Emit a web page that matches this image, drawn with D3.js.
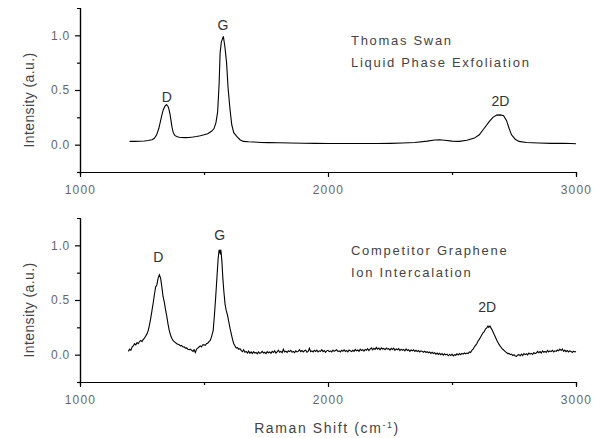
<!DOCTYPE html>
<html>
<head>
<meta charset="utf-8">
<script src="https://cdnjs.cloudflare.com/ajax/libs/d3/7.8.5/d3.min.js"></script>
<style>
  html, body { margin: 0; padding: 0; background: #fff; }
  svg { display: block; font-family: "Liberation Sans", Arial, sans-serif; }
  .tick text { fill: #666; font-size: 12px; }
  .x-axis .tick text { letter-spacing: 1.2px; }
  .y-axis .tick text { letter-spacing: 0.8px; }
  .domain, .tick line { stroke: #000; stroke-width: 1.2px; }
</style>
</head>
<body>
<svg id="chart" width="602" height="438"></svg>
<script>
// Raman spectra: [shift (cm^-1), normalised intensity]
const thomasSwan = [
  [1200,0.030],[1220,0.030],[1240,0.031],[1260,0.034],[1275,0.038],[1290,0.045],[1300,0.058],
  [1309,0.090],[1318,0.150],[1325,0.220],[1331,0.280],[1336,0.320],[1342,0.350],[1349,0.366],
  [1355,0.350],[1359,0.320],[1363,0.280],[1367,0.220],[1371,0.160],[1376,0.110],[1382,0.085],
  [1390,0.075],[1400,0.068],[1410,0.065],[1425,0.064],[1440,0.066],[1455,0.070],[1470,0.075],
  [1485,0.082],[1500,0.090],[1515,0.100],[1530,0.122],[1540,0.145],[1548,0.200],[1555,0.300],
  [1561,0.560],[1565,0.840],[1570,0.940],[1578,0.990],[1584,0.900],[1591,0.750],[1597,0.520],
  [1605,0.320],[1612,0.180],[1620,0.110],[1632,0.076],[1645,0.045],[1659,0.030],[1680,0.026],
  [1700,0.024],[1730,0.020],[1760,0.019],[1800,0.017],[1850,0.015],[1900,0.013],[1950,0.012],
  [2000,0.010],[2050,0.010],[2100,0.010],[2150,0.010],[2200,0.011],[2250,0.012],[2300,0.015],
  [2350,0.020],[2400,0.032],[2430,0.042],[2450,0.045],[2470,0.040],[2500,0.032],[2530,0.030],
  [2560,0.040],[2590,0.060],[2610,0.090],[2630,0.150],[2650,0.210],[2665,0.250],[2680,0.270],
  [2695,0.272],[2708,0.265],[2720,0.220],[2730,0.150],[2740,0.090],[2755,0.050],[2770,0.030],
  [2800,0.020],[2850,0.015],[2900,0.012],[2950,0.012],[2980,0.010],[3000,0.008]
];

const competitor = [
  [1195,0.030],[1200,0.050],[1205,0.040],[1210,0.070],[1215,0.080],[1220,0.100],[1225,0.090],
  [1230,0.110],[1235,0.100],[1240,0.120],[1245,0.130],[1250,0.120],[1255,0.140],[1260,0.150],
  [1265,0.170],[1270,0.190],[1275,0.220],[1280,0.270],[1285,0.330],[1290,0.400],[1295,0.470],
  [1300,0.550],[1305,0.620],[1310,0.640],[1315,0.700],[1320,0.730],[1325,0.700],[1330,0.620],
  [1335,0.530],[1340,0.480],[1345,0.410],[1350,0.350],[1355,0.280],[1360,0.220],[1365,0.180],
  [1370,0.150],[1375,0.130],[1380,0.120],[1385,0.110],[1390,0.100],[1395,0.095],[1400,0.090],
  [1405,0.080],[1410,0.085],[1415,0.070],[1420,0.072],[1425,0.060],[1430,0.062],[1435,0.050],
  [1440,0.045],[1445,0.050],[1450,0.040],[1456,0.030],[1460,0.045],[1465,0.020],[1470,0.050],
  [1475,0.060],[1480,0.070],[1485,0.080],[1490,0.070],[1495,0.090],[1500,0.090],[1505,0.085],
  [1510,0.100],[1515,0.105],[1520,0.120],[1525,0.130],[1530,0.160],[1537,0.220],[1542,0.360],
  [1547,0.520],[1552,0.700],[1557,0.880],[1561,0.960],[1565,0.930],[1568,0.960],[1572,0.860],
  [1576,0.700],[1580,0.580],[1585,0.460],[1590,0.400],[1595,0.360],[1600,0.300],[1605,0.240],
  [1610,0.190],[1615,0.140],[1620,0.100],[1625,0.080],[1630,0.060],[1635,0.065],[1640,0.050],
  [1645,0.055],[1650,0.040],[1655,0.028],[1660,0.045],[1665,0.022],[1670,0.030],[1675,0.015],
  [1680,0.032],[1685,0.012],[1690,0.025],[1695,0.010],[1700,0.028],[1705,0.015],[1710,0.020],
  [1715,0.008],[1720,0.025],[1725,0.012],[1730,0.018],[1735,0.030],[1740,0.015],[1745,0.022],
  [1750,0.010],[1755,0.028],[1760,0.018],[1765,0.025],[1770,0.012],[1775,0.030],[1780,0.020],
  [1785,0.035],[1790,0.015],[1795,0.025],[1800,0.040],[1805,0.022],[1810,0.030],[1815,0.018],
  [1820,0.050],[1825,0.025],[1830,0.032],[1835,0.020],[1840,0.035],[1845,0.028],[1850,0.040],
  [1855,0.022],[1860,0.030],[1865,0.018],[1870,0.035],[1875,0.025],[1880,0.030],[1885,0.045],
  [1890,0.028],[1895,0.038],[1900,0.025],[1905,0.035],[1910,0.040],[1915,0.022],[1920,0.030],
  [1925,0.058],[1930,0.028],[1935,0.035],[1940,0.025],[1945,0.040],[1950,0.030],[1955,0.042],
  [1960,0.025],[1965,0.035],[1970,0.030],[1975,0.045],[1980,0.028],[1985,0.038],[1990,0.022],
  [1995,0.035],[2000,0.040],[2005,0.028],[2010,0.035],[2015,0.025],[2020,0.042],[2025,0.030],
  [2030,0.038],[2035,0.045],[2040,0.028],[2045,0.035],[2050,0.025],[2055,0.040],[2060,0.032],
  [2065,0.045],[2070,0.030],[2075,0.038],[2080,0.025],[2085,0.042],[2090,0.035],[2095,0.028],
  [2100,0.040],[2105,0.030],[2110,0.048],[2115,0.035],[2120,0.042],[2125,0.030],[2130,0.050],
  [2135,0.038],[2140,0.045],[2145,0.032],[2150,0.048],[2155,0.040],[2160,0.055],[2165,0.038],
  [2170,0.050],[2175,0.062],[2180,0.045],[2185,0.058],[2190,0.048],[2195,0.065],[2200,0.050],
  [2205,0.060],[2210,0.045],[2215,0.062],[2220,0.052],[2225,0.058],[2230,0.045],[2235,0.060],
  [2240,0.050],[2245,0.055],[2250,0.042],[2255,0.058],[2260,0.048],[2265,0.060],[2270,0.040],
  [2275,0.052],[2280,0.045],[2285,0.055],[2290,0.038],[2295,0.050],[2300,0.040],[2305,0.048],
  [2310,0.035],[2315,0.052],[2320,0.038],[2325,0.045],[2330,0.030],[2335,0.042],[2340,0.035],
  [2345,0.045],[2350,0.030],[2355,0.040],[2360,0.028],[2365,0.038],[2370,0.025],[2375,0.035],
  [2380,0.030],[2385,0.022],[2390,0.032],[2395,0.020],[2400,0.028],[2405,0.018],[2410,0.025],
  [2415,0.012],[2420,0.022],[2425,0.010],[2430,0.018],[2435,0.005],[2440,0.015],[2445,0.002],
  [2450,0.012],[2455,0.000],[2460,0.010],[2465,-0.005],[2470,0.008],[2475,-0.002],[2480,0.005],
  [2485,-0.010],[2490,0.002],[2495,-0.008],[2500,0.005],[2505,-0.012],[2510,0.000],[2515,-0.005],
  [2520,0.008],[2525,-0.002],[2530,0.010],[2535,0.000],[2540,0.012],[2545,0.005],[2550,0.015],
  [2555,0.008],[2560,0.015],[2565,0.010],[2570,0.025],[2575,0.020],[2580,0.040],[2585,0.050],
  [2590,0.070],[2595,0.085],[2600,0.100],[2605,0.125],[2610,0.140],[2615,0.160],[2620,0.180],
  [2625,0.200],[2630,0.210],[2635,0.235],[2640,0.245],[2645,0.262],[2648,0.250],[2653,0.262],
  [2657,0.245],[2662,0.225],[2667,0.200],[2672,0.175],[2677,0.150],[2682,0.125],[2687,0.105],
  [2692,0.085],[2697,0.070],[2702,0.055],[2707,0.045],[2712,0.035],[2716,0.025],[2720,0.020],
  [2725,0.010],[2730,0.012],[2735,0.000],[2740,0.005],[2745,-0.008],[2750,0.000],[2755,-0.012],
  [2760,-0.015],[2765,-0.002],[2770,0.000],[2775,-0.010],[2780,0.005],[2785,-0.008],[2790,0.010],
  [2795,0.000],[2800,0.008],[2805,-0.002],[2810,0.015],[2815,0.005],[2820,0.012],[2825,0.002],
  [2830,0.020],[2835,0.010],[2840,0.015],[2845,0.030],[2850,0.018],[2855,0.028],[2860,0.015],
  [2865,0.035],[2870,0.022],[2875,0.030],[2880,0.020],[2885,0.038],[2890,0.025],[2895,0.035],
  [2900,0.028],[2905,0.040],[2910,0.025],[2915,0.035],[2920,0.030],[2925,0.042],[2930,0.035],
  [2935,0.050],[2940,0.038],[2945,0.052],[2950,0.030],[2955,0.042],[2960,0.028],[2965,0.038],
  [2970,0.025],[2975,0.035],[2980,0.030],[2985,0.020],[2990,0.032],[2995,0.025],[3000,0.030]
];

const xTicks = [1000, 2000, 3000];
const xMinorTicks = [1500, 2500];
const yTicks = [0.0, 0.5, 1.0];
const yMinorTicks = [-0.25, 0.25, 0.75];

// peak annotations: [label, shift, intensity level of the label baseline]
const swanPeaks = [["D", 1350, 0.39], ["G", 1576, 1.05], ["2D", 2695, 0.35]];
const competitorPeaks = [["D", 1316, 0.85], ["G", 1563, 1.05], ["2D", 2642, 0.39]];

const panels = [
  { data: thomasSwan, top: 8, bottom: 172,
    title: ["Thomas Swan", "Liquid Phase Exfoliation"], peaks: swanPeaks },
  { data: competitor, top: 218, bottom: 382,
    title: ["Competitor Graphene", "Ion Intercalation"], peaks: competitorPeaks }
];

const svg = d3.select("#chart");
const x = d3.scaleLinear().domain([1000, 3000]).range([80, 576]);

panels.forEach(p => {
  const y = d3.scaleLinear().domain([-0.25, 1.25]).range([p.bottom, p.top]);
  const g = svg.append("g");

  // minor ticks
  g.append("g").attr("transform", `translate(0,${p.bottom})`)
    .call(d3.axisBottom(x).tickValues(xMinorTicks).tickSize(3).tickFormat(""));
  g.append("g").attr("transform", `translate(80,0)`)
    .call(d3.axisLeft(y).tickValues(yMinorTicks).tickSize(3).tickFormat(""));

  // major axes
  g.append("g").attr("class", "x-axis").attr("transform", `translate(0,${p.bottom})`)
    .call(d3.axisBottom(x).tickValues(xTicks).tickSize(5).tickSizeOuter(0).tickPadding(8)
      .tickFormat(d3.format("d")));
  g.append("g").attr("class", "y-axis").attr("transform", `translate(80,0)`)
    .call(d3.axisLeft(y).tickValues(yTicks).tickSize(5).tickSizeOuter(0).tickPadding(5)
      .tickFormat(d3.format(".1f")));

  // y-axis title
  g.append("text")
    .attr("transform", `translate(34,${(p.top + p.bottom) / 2 + 10}) rotate(-90)`)
    .attr("text-anchor", "middle")
    .attr("fill", "#444").attr("font-size", 14).attr("letter-spacing", 0.4)
    .text("Intensity (a.u.)");

  // spectrum
  g.append("path")
    .datum(p.data)
    .attr("fill", "none").attr("stroke", "#000").attr("stroke-width", 1.1)
    .attr("d", d3.line().x(d => x(d[0])).y(d => y(d[1])));

  // peak labels
  g.selectAll(".peak").data(p.peaks).join("text")
    .attr("class", "peak")
    .attr("x", d => x(d[1]))
    .attr("y", d => y(d[2]))
    .attr("text-anchor", "middle")
    .attr("fill", "#333").attr("font-size", 14)
    .text(d => d[0]);

  // sample description
  g.append("g").selectAll("text").data(p.title).join("text")
    .attr("x", 351)
    .attr("y", (d, i) => p.top + 37 + i * 22)
    .attr("fill", "#444").attr("font-size", 13).attr("letter-spacing", 1.7)
    .text(d => d);
});

// shared x-axis title
const xt = svg.append("text")
  .attr("x", 327).attr("y", 433)
  .attr("text-anchor", "middle")
  .attr("fill", "#444").attr("font-size", 14).attr("letter-spacing", 1.6);
xt.append("tspan").text("Raman Shift (cm");
xt.append("tspan").attr("dy", -5).attr("font-size", 9).text("-1");
xt.append("tspan").attr("dy", 5).text(")");
</script>
</body>
</html>
